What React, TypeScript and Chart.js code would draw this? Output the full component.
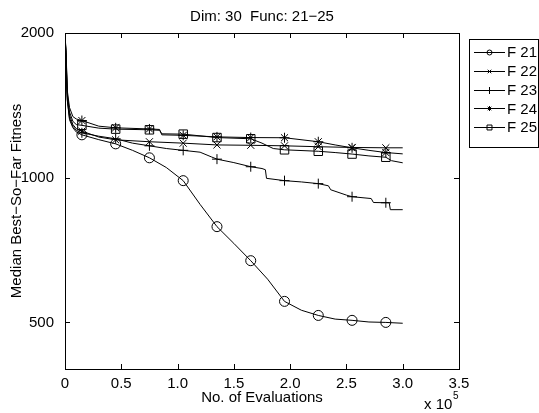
import React, { useEffect, useRef } from 'react';
import { Chart, registerables } from 'chart.js';
Chart.register(...registerables);

const FONT = '"Liberation Sans", Arial, Helvetica, sans-serif';

const chartTitle = 'Dim: 30  Func: 21\u221225';
const xTitle = 'No. of Evaluations';
const yTitle = 'Median Best\u2212So\u2212Far Fitness';
const seriesNames = ['F 21', 'F 22', 'F 23', 'F 24', 'F 25'];
const seriesStyles = ['circle', 'crossRot', 'cross', 'star', 'rect'];
const yTickValues = [500, 1000, 2000];
const xTickValues = [0, 0.5, 1, 1.5, 2, 2.5, 3, 3.5];
const markerEvals = [0.15, 0.45, 0.75, 1.05, 1.35, 1.65, 1.95, 2.25, 2.55, 2.85];

// evaluations in units of 1e5
const f21Evals = [0, 0.01, 0.02, 0.04, 0.07, 0.1, 0.15, 0.3, 0.45, 0.6, 0.75, 0.9, 1.05, 1.2, 1.35, 1.5, 1.65, 1.8, 1.95, 2.1, 2.25, 2.4, 2.55, 2.7, 2.85, 3.0];
const f21Values = [1990, 1750, 1450, 1320, 1270, 1245, 1228, 1200, 1176, 1140, 1100, 1050, 986, 880, 791, 730, 672, 615, 553, 530, 517, 508, 505, 501, 500, 498];

const f22Evals = [0, 0.01, 0.02, 0.04, 0.07, 0.1, 0.15, 0.3, 0.45, 0.75, 1.05, 1.35, 1.65, 1.95, 2.25, 2.55, 2.85, 3.0];
const f22Values = [1990, 1780, 1480, 1350, 1290, 1265, 1250, 1215, 1199, 1188, 1180, 1170, 1168, 1165, 1160, 1156, 1154, 1154];

const f23Evals = [0, 0.01, 0.02, 0.04, 0.07, 0.1, 0.15, 0.3, 0.45, 0.6, 0.75, 0.9, 1.05, 1.2, 1.3, 1.35, 1.5, 1.65, 1.75, 1.78, 1.79, 1.95, 2.1, 2.25, 2.34, 2.36, 2.5, 2.55, 2.72, 2.74, 2.85, 2.88, 2.89, 3.0];
const f23Values = [1990, 1760, 1460, 1330, 1280, 1255, 1240, 1220, 1205, 1180, 1165, 1150, 1140, 1130, 1105, 1093, 1075, 1054, 1045, 1039, 997, 986, 980, 972, 962, 944, 920, 913, 905, 888, 887, 887, 858, 858];

const f24Evals = [0, 0.01, 0.02, 0.04, 0.07, 0.1, 0.15, 0.3, 0.45, 0.75, 0.84, 0.86, 1.05, 1.35, 1.65, 1.95, 2.25, 2.4, 2.55, 2.7, 2.85, 3.0];
const f24Values = [1990, 1820, 1520, 1400, 1340, 1325, 1315, 1280, 1270, 1263, 1260, 1228, 1225, 1216, 1212, 1211, 1188, 1170, 1154, 1140, 1128, 1121];

const f25Evals = [0, 0.01, 0.02, 0.04, 0.07, 0.1, 0.15, 0.3, 0.45, 0.75, 0.84, 0.86, 1.05, 1.35, 1.65, 1.75, 1.85, 1.95, 2.25, 2.4, 2.55, 2.7, 2.85, 2.9, 3.0];
const f25Values = [1990, 1800, 1500, 1370, 1310, 1290, 1285, 1268, 1262, 1258, 1255, 1234, 1232, 1212, 1205, 1180, 1150, 1143, 1135, 1128, 1120, 1110, 1103, 1085, 1074];

const allEvals = [f21Evals, f22Evals, f23Evals, f24Evals, f25Evals];
const allValues = [f21Values, f22Values, f23Values, f24Values, f25Values];
const markerRadius = [5, 5, 5, 5, 6];

function drawMarker(ctx: CanvasRenderingContext2D, style: string, x: number, y: number, r: number) {
  ctx.beginPath();
  if (style === 'circle') {
    ctx.arc(x, y, r, 0, Math.PI * 2);
  } else if (style === 'rect') {
    const s = r * Math.SQRT1_2;
    ctx.rect(x - s, y - s, 2 * s, 2 * s);
  } else {
    const d = r * Math.SQRT1_2;
    if (style === 'cross' || style === 'star') {
      ctx.moveTo(x - r, y); ctx.lineTo(x + r, y);
      ctx.moveTo(x, y - r); ctx.lineTo(x, y + r);
    }
    if (style === 'crossRot' || style === 'star') {
      ctx.moveTo(x - d, y - d); ctx.lineTo(x + d, y + d);
      ctx.moveTo(x - d, y + d); ctx.lineTo(x + d, y - d);
    }
  }
  ctx.stroke();
}

const decorPlugin = {
  id: 'decor',
  afterDatasetsDraw(chart: any) {
    const ctx: CanvasRenderingContext2D = chart.ctx;
    const { left, right, top, bottom } = chart.chartArea;
    const xs = chart.scales.x;
    const ys = chart.scales.y;
    ctx.save();
    ctx.strokeStyle = '#000';
    ctx.lineWidth = 1;
    // frame
    ctx.strokeRect(Math.round(left) + 0.5, Math.round(top) + 0.5, Math.round(right - left), Math.round(bottom - top));
    // ticks
    ctx.beginPath();
    const tl = 5;
    xTickValues.forEach((v) => {
      const px = Math.round(xs.getPixelForValue(v)) + 0.5;
      ctx.moveTo(px, bottom); ctx.lineTo(px, bottom - tl);
      ctx.moveTo(px, top); ctx.lineTo(px, top + tl);
    });
    yTickValues.forEach((v) => {
      const py = Math.round(ys.getPixelForValue(v)) + 0.5;
      ctx.moveTo(left, py); ctx.lineTo(left + tl, py);
      ctx.moveTo(right, py); ctx.lineTo(right - tl, py);
    });
    ctx.stroke();

    // texts
    ctx.fillStyle = '#000';
    ctx.font = `15px ${FONT}`;
    ctx.textAlign = 'center';
    ctx.textBaseline = 'middle';
    ctx.fillText(chartTitle, (left + right) / 2, 17);
    ctx.fillText(xTitle, (left + right) / 2, 398);
    ctx.save();
    ctx.translate(17, (top + bottom) / 2);
    ctx.rotate(-Math.PI / 2);
    ctx.fillText(yTitle, 0, 0);
    ctx.restore();
    ctx.textAlign = 'left';
    ctx.fillText('x 10', 424, 405);
    ctx.font = `10px ${FONT}`;
    ctx.fillText('5', 453, 396);

    // legend
    ctx.fillStyle = '#fff';
    ctx.fillRect(469.5, 39.5, 69, 108);
    ctx.strokeRect(469.5, 39.5, 69, 108);
    ctx.fillStyle = '#000';
    ctx.font = `15px ${FONT}`;
    const legendMarkerR = [2.5, 2.5, 3.5, 2.5, 3.5];
    seriesNames.forEach((name, i) => {
      const y = 52 + i * 18.8;
      const yy = Math.round(y) + 0.5;
      ctx.beginPath();
      ctx.moveTo(474, yy); ctx.lineTo(505, yy);
      ctx.stroke();
      drawMarker(ctx, seriesStyles[i], 489.5, yy, legendMarkerR[i]);
      ctx.fillText(name, 507, y + 1);
    });
    ctx.restore();
  },
};

export default function App() {
  const canvasRef = useRef<HTMLCanvasElement | null>(null);

  useEffect(() => {
    const canvas = canvasRef.current;
    if (!canvas) return;
    const datasets = seriesNames.map((name, i) => ({
      label: name,
      data: allEvals[i].map((x, j) => ({ x, y: allValues[i][j] })),
      borderColor: '#000',
      borderWidth: 1,
      backgroundColor: 'rgba(0,0,0,0)',
      pointBackgroundColor: 'rgba(0,0,0,0)',
      pointBorderColor: '#000',
      pointBorderWidth: 1,
      pointStyle: seriesStyles[i],
      pointRadius: (c: any) => {
        const raw = c.raw as { x: number };
        return raw && markerEvals.some((m) => Math.abs(m - raw.x) < 1e-6) ? markerRadius[i] : 0;
      },
      pointHoverRadius: 0,
      tension: 0,
      fill: false,
    }));

    const chart = new Chart(canvas, {
      type: 'line',
      data: { datasets },
      options: {
        animation: false,
        responsive: false,
        events: [],
        layout: { padding: { left: 0, right: 80, top: 33, bottom: 0 } },
        plugins: {
          legend: { display: false },
          tooltip: { enabled: false },
          title: { display: false },
        },
        scales: {
          x: {
            type: 'linear',
            min: 0,
            max: 3.5,
            grid: { display: false },
            border: { display: false },
            ticks: {
              stepSize: 0.5,
              color: '#000',
              font: { family: FONT, size: 15 },
              padding: -2,
              maxRotation: 0,
              autoSkip: false,
            },
            afterFit: (scale: any) => { scale.height = 44; },
          },
          y: {
            type: 'logarithmic',
            min: 400,
            max: 2000,
            grid: { display: false },
            border: { display: false },
            ticks: {
              color: '#000',
              font: { family: FONT, size: 15 },
              padding: 3,
              autoSkip: false,
              callback: (v: any) => String(v),
            },
            afterBuildTicks: (scale: any) => {
              scale.ticks = yTickValues.map((v) => ({ value: v }));
            },
            afterFit: (scale: any) => { scale.width = 65; },
          },
        },
      },
      plugins: [decorPlugin],
    } as any);
    return () => chart.destroy();
  }, []);

  return (
    <div style={{ position: 'absolute', left: 0, top: 0, width: 539, height: 413, background: '#fff' }}>
      <canvas ref={canvasRef} width={539} height={413} style={{ display: 'block' }} />
    </div>
  );
}
